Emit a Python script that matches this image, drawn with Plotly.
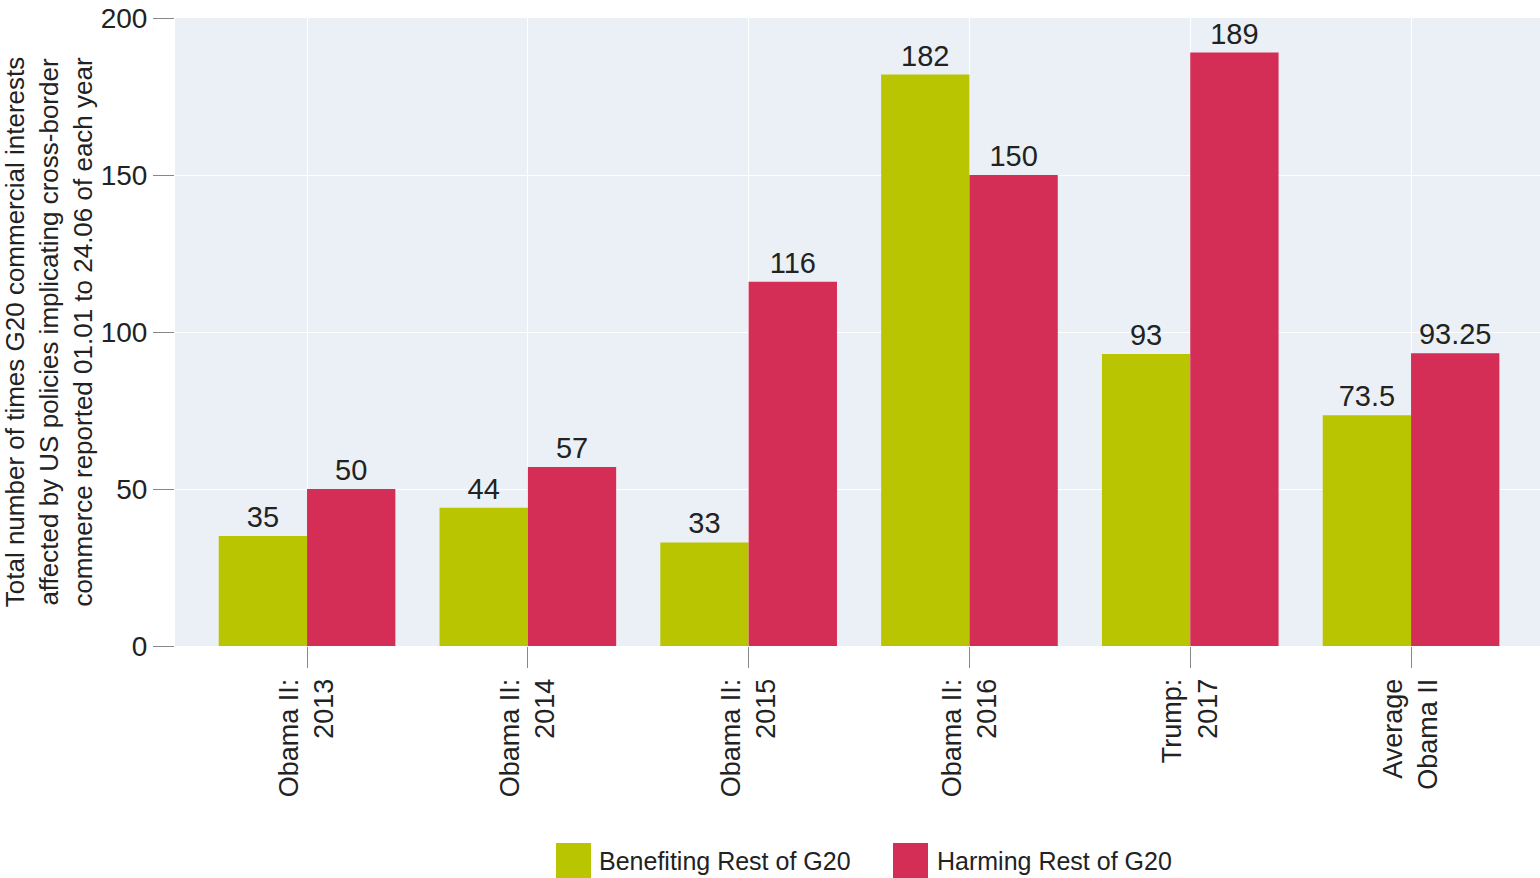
import plotly.graph_objects as go

categories = ["Obama II:<br>2013", "Obama II:<br>2014", "Obama II:<br>2015",
              "Obama II:<br>2016", "Trump:<br>2017", "Average<br>Obama II"]
benefiting = [35, 44, 33, 182, 93, 73.5]
harming = [50, 57, 116, 150, 189, 93.25]
benefiting_labels = ["35", "44", "33", "182", "93", "73.5"]
harming_labels = ["50", "57", "116", "150", "189", "93.25"]
series_names = ["Benefiting Rest of G20", "Harming Rest of G20"]
y_ticks = [0, 50, 100, 150, 200]

GREEN = "#b9c500"
RED = "#d42d56"
FONT = "Liberation Sans, Arial, Helvetica, sans-serif"
TXT = "#222222"

fig = go.Figure()
fig.add_trace(go.Bar(
    x=categories, y=benefiting, name=series_names[0],
    marker=dict(color=GREEN, line=dict(width=0)),
    text=benefiting_labels, textposition="outside", cliponaxis=False,
    textfont=dict(size=29, color=TXT, family=FONT),
))
fig.add_trace(go.Bar(
    x=categories, y=harming, name=series_names[1],
    marker=dict(color=RED, line=dict(width=0)),
    text=harming_labels, textposition="outside", cliponaxis=False,
    textfont=dict(size=29, color=TXT, family=FONT),
))

# plot area geometry in pixels (for placing the legend drawn below the plot)
L, R, T, B = 175, 1540, 18, 646
W, H = R - L, B - T
def px(x):
    return (x - L) / W
def py(y):
    return (B - y) / H

legend_items = [(556, 591, 597, GREEN, series_names[0]),
                (893, 928, 935, RED, series_names[1])]
shapes = []
annotations = []
for x0, x1, xt, col, name in legend_items:
    shapes.append(dict(type="rect", xref="paper", yref="paper",
                       x0=px(x0), x1=px(x1), y0=py(878), y1=py(843),
                       fillcolor=col, line=dict(width=0), layer="above"))
    annotations.append(dict(xref="paper", yref="paper", x=px(xt), y=py(861),
                            xanchor="left", yanchor="middle", showarrow=False,
                            text=name, font=dict(size=25, family=FONT, color=TXT)))

fig.update_layout(
    width=1540, height=878,
    margin=dict(l=L, r=1540 - R, t=T, b=878 - B),
    barmode="group", bargap=0.2, bargroupgap=0,
    plot_bgcolor="#eaf0f5", paper_bgcolor="white",
    font=dict(family=FONT, color=TXT),
    showlegend=False,
    shapes=shapes, annotations=annotations,
)
fig.update_xaxes(
    type="category", range=[-0.598, 5.584], automargin=False,
    showgrid=True, gridcolor="white", gridwidth=1,
    ticks="outside", ticklen=21, tickcolor="#888888", tickwidth=1,
    tickangle=-90, tickfont=dict(size=27, family=FONT, color=TXT),
    showline=False, zeroline=False,
)
fig.update_yaxes(
    range=[0, 200], tickvals=y_ticks, automargin=False,
    showgrid=True, gridcolor="white", gridwidth=1,
    ticks="outside", ticklen=21, tickcolor="#888888", tickwidth=1,
    tickfont=dict(size=28, family=FONT, color=TXT),
    showline=False, zeroline=False,
    title=dict(text="Total number of times G20 commercial interests<br>affected by US policies implicating cross-border<br>commerce reported 01.01 to 24.06 of each year",
               font=dict(size=26, family=FONT, color=TXT), standoff=8),
)

fig.write_html("out.html")
